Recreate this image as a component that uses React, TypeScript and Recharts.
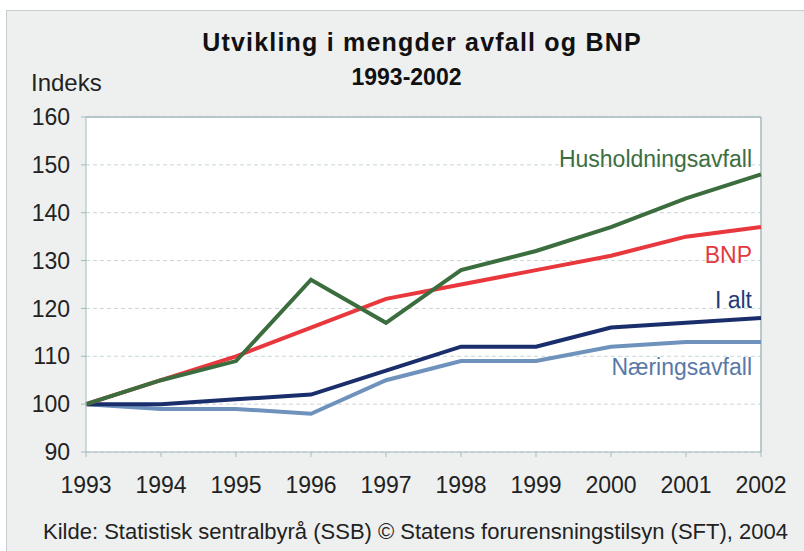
import { LineChart, Line, XAxis, YAxis, CartesianGrid, ReferenceLine, LabelList } from 'recharts';

// Indeks, 1993 = 100
const years = ['1993', '1994', '1995', '1996', '1997', '1998', '1999', '2000', '2001', '2002'];
const husholdning = [100, 105, 109, 126, 117, 128, 132, 137, 143, 148];
const bnp = [100, 105, 110, 116, 122, 125, 128, 131, 135, 137];
const iAlt = [100, 100, 101, 102, 107, 112, 112, 116, 117, 118];
const naering = [100, 99, 99, 98, 105, 109, 109, 112, 113, 113];
const yTicks = [90, 100, 110, 120, 130, 140, 150, 160];

const FONT = '"Liberation Sans", Arial, Helvetica, sans-serif';
const AXIS = '#a3b9bc';

const data = years.map((year, i) => ({
  year,
  husholdning: husholdning[i],
  bnp: bnp[i],
  iAlt: iAlt[i],
  naering: naering[i],
}));

const lastIndex = years.length - 1;

// etikett ved siste punkt, høyrejustert
function endLabel(text: string, color: string, dy: number) {
  return (props: any) => {
    if (props.index !== lastIndex) return null;
    return (
      <text
        x={props.x - 9}
        y={props.y + dy}
        textAnchor="end"
        fill={color}
        fontSize={23}
        fontFamily={FONT}
      >
        {text}
      </text>
    );
  };
}

export default function App() {
  return (
    <div style={{ position: 'absolute', left: 0, top: 0, width: 804, height: 551, background: '#fff', overflow: 'hidden', fontFamily: FONT }}>
      <div
        style={{
          position: 'absolute',
          left: 6,
          top: 10,
          width: 820,
          height: 560,
          background: '#eef0f0',
          border: '1px solid #c9cccc',
        }}
      />
      <div style={{ position: 'absolute', left: 0, width: 844, top: 26, textAlign: 'center', fontSize: 25, letterSpacing: 1.2, fontWeight: 'bold', color: '#111', lineHeight: '32px', whiteSpace: 'nowrap' }}>
        Utvikling i mengder avfall og BNP
      </div>
      <div style={{ position: 'absolute', left: 0, width: 813, top: 64, textAlign: 'center', fontSize: 23, fontWeight: 'bold', color: '#111', lineHeight: '26px' }}>
        1993-2002
      </div>
      <div style={{ position: 'absolute', left: 31, top: 69, fontSize: 24, color: '#222', lineHeight: '28px' }}>
        Indeks
      </div>
      <div style={{ position: 'absolute', left: 43, top: 520, fontSize: 22, color: '#222', lineHeight: '24px', whiteSpace: 'nowrap' }}>
        Kilde: Statistisk sentralbyrå (SSB) © Statens forurensningstilsyn (SFT), 2004
      </div>
      <div style={{ position: 'absolute', left: 0, top: 0 }}>
        <LineChart width={804} height={551} data={data} margin={{ top: 117, right: 43, bottom: 59, left: 0 }}>
          <CartesianGrid
            vertical={false}
            strokeDasharray="4 3"
            stroke="#c9d6d6"
            fill="#ffffff"
            fillOpacity={1}
          />
          <XAxis
            dataKey="year"
            height={40}
            tickSize={5}
            tickMargin={20}
            stroke={AXIS}
            tick={{ fill: '#222', fontSize: 23, fontFamily: FONT }}
            interval={0}
          />
          <YAxis
            domain={[90, 160]}
            ticks={yTicks}
            width={86}
            tickSize={5}
            tickMargin={11}
            stroke={AXIS}
            tick={{ fill: '#222', fontSize: 23, fontFamily: FONT }}
            interval={0}
          />
          <ReferenceLine y={160} stroke={AXIS} strokeWidth={1.5} />
          <ReferenceLine x="2002" stroke={AXIS} strokeWidth={1.5} />
          <Line dataKey="naering" stroke="#6e92bc" strokeWidth={4} dot={false} isAnimationActive={false}>
            <LabelList content={endLabel('Næringsavfall', '#5878a6', 33)} />
          </Line>
          <Line dataKey="iAlt" stroke="#1a2e6c" strokeWidth={4} dot={false} isAnimationActive={false}>
            <LabelList content={endLabel('I alt', '#1f3a78', -10)} />
          </Line>
          <Line dataKey="bnp" stroke="#e8383d" strokeWidth={4} dot={false} isAnimationActive={false}>
            <LabelList content={endLabel('BNP', '#e23a40', 36)} />
          </Line>
          <Line dataKey="husholdning" stroke="#3b6d3e" strokeWidth={4} dot={false} isAnimationActive={false}>
            <LabelList content={endLabel('Husholdningsavfall', '#3c6e3f', -7)} />
          </Line>
        </LineChart>
      </div>
    </div>
  );
}
